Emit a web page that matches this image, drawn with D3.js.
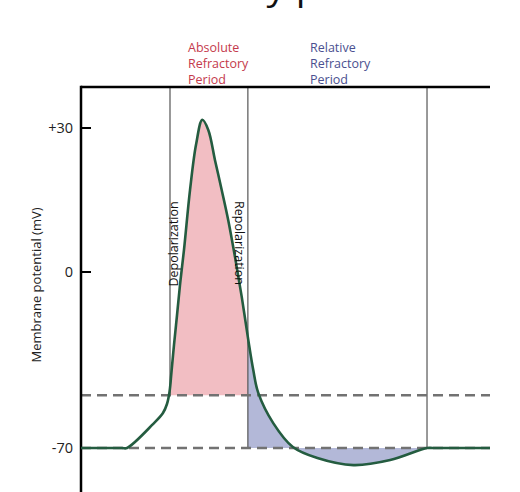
<!DOCTYPE html>
<html>
<head>
<meta charset="utf-8">
<script src="https://cdn.jsdelivr.net/npm/d3@7"></script>
<style>
  body { margin: 0; background: #fff; }
  svg { display: block; font-family: "Open Sans", "Noto Sans", sans-serif; }
</style>
</head>
<body>
<div id="chart"></div>
<script>
// Action potential trace (time in ms, membrane potential in mV)
const times = [0, 0.5, 0.562, 0.88, 1.002, 1.051, 1.082, 1.106, 1.137, 1.174, 1.21, 1.259, 1.333, 1.406, 1.483,
    1.556, 1.638, 1.72, 1.80, 1.883, 1.965, 2.045, 2.106, 2.167, 2.35, 2.59, 2.89, 3.33, 3.78, 4.23, 4.3, 5.0];
const potentials = [-70, -70, -70, -60.5, -56.1, -52.5, -47.7, -39.8, -29, -17.1, -5.2, 4.6, 17.1, 26.5, 31.7,
    29.6, 23.3, 17.1, 10.8, 3.1, -9.9, -27, -39, -48.1, -60.1, -69.6, -74, -76.8, -74.8, -70, -70, -70];

const restingPotential = -70;
const thresholdPotential = -49;
const yTicks = [30, 0, -70];
const yTickLabels = ["+30", "0", "-70"];

// vertical markers: start of depolarization, end of ARP, end of RRP
const markerTimes = [1.088, 2.04, 4.23];
const markerBottoms = [thresholdPotential, restingPotential, restingPotential];

const periodLabels = [
    { lines: ["Absolute", "Refractory", "Period"], color: "#c43a4c" },
    { lines: ["Relative", "Refractory", "Period"], color: "#4a5090" }
];

const width = 520, height = 492;
const data = times.map((t, i) => ({ t, v: potentials[i] }));

const svg = d3.select("#chart").append("svg")
    .attr("width", width)
    .attr("height", height);

// x: time, y: schematic (piecewise) potential scale
const x = d3.scaleLinear().domain([0, 5]).range([81, 490]);
const y = d3.scaleLinear().domain([-70, 0, 30]).range([448, 272, 128]);
const topY = 87;

// title, mostly cut off at the top edge
svg.append("text")
    .attr("x", 100)
    .attr("y", 0)
    .attr("font-size", "34px")
    .attr("fill", "#111")
    .attr("textLength", 313)
    .attr("lengthAdjust", "spacingAndGlyphs")
    .text("Refractory period");

// fills
const defs = svg.append("defs");
defs.append("clipPath").attr("id", "clip-abs")
    .append("rect")
    .attr("x", x(markerTimes[0])).attr("y", 0)
    .attr("width", x(markerTimes[1]) - x(markerTimes[0])).attr("height", height);
defs.append("clipPath").attr("id", "clip-rel")
    .append("rect")
    .attr("x", x(markerTimes[1])).attr("y", 0)
    .attr("width", x(markerTimes[2]) - x(markerTimes[1])).attr("height", height);

const curve = d3.curveCatmullRom.alpha(0.5);
const areaTo = base => d3.area()
    .x(d => x(d.t))
    .y0(y(base))
    .y1(d => y(d.v))
    .curve(curve);

svg.append("path")
    .datum(data)
    .attr("clip-path", "url(#clip-abs)")
    .attr("fill", "#f2bec3")
    .attr("d", areaTo(thresholdPotential));

svg.append("path")
    .datum(data)
    .attr("clip-path", "url(#clip-rel)")
    .attr("fill", "#b3b8d8")
    .attr("d", areaTo(restingPotential));

// vertical markers
svg.append("g").selectAll("line")
    .data(markerTimes)
    .join("line")
    .attr("x1", d => x(d)).attr("x2", d => x(d))
    .attr("y1", topY)
    .attr("y2", (d, i) => y(markerBottoms[i]))
    .attr("stroke", "#555")
    .attr("stroke-width", 1.2);

// dashed threshold and resting lines
svg.append("g").selectAll("line")
    .data([thresholdPotential, restingPotential])
    .join("line")
    .attr("x1", x(0)).attr("x2", x(5))
    .attr("y1", d => y(d)).attr("y2", d => y(d))
    .attr("stroke", "#727272")
    .attr("stroke-width", 2.5)
    .attr("stroke-dasharray", "10 6");

// axes frame
svg.append("line")
    .attr("x1", x(0)).attr("x2", x(5))
    .attr("y1", topY).attr("y2", topY)
    .attr("stroke", "#000").attr("stroke-width", 2.5);
svg.append("line")
    .attr("x1", x(0)).attr("x2", x(0))
    .attr("y1", topY - 1.25).attr("y2", height)
    .attr("stroke", "#000").attr("stroke-width", 2.5);

// y ticks point inwards
const ticks = svg.append("g").selectAll("g")
    .data(yTicks)
    .join("g")
    .attr("transform", d => `translate(${x(0)},${y(d)})`);
ticks.append("line")
    .attr("x1", 0).attr("x2", 10)
    .attr("stroke", "#000").attr("stroke-width", 2);
ticks.append("text")
    .attr("x", -8)
    .attr("dy", "0.35em")
    .attr("text-anchor", "end")
    .attr("font-size", "14.5px")
    .attr("fill", "#222")
    .text((d, i) => yTickLabels[i]);

svg.append("text")
    .attr("transform", `translate(41,${(y(30) + y(-70)) / 2 - 3}) rotate(-90)`)
    .attr("text-anchor", "middle")
    .attr("font-size", "13px")
    .attr("fill", "#222")
    .text("Membrane potential (mV)");

// the trace
svg.append("path")
    .datum(data)
    .attr("fill", "none")
    .attr("stroke", "#245c40")
    .attr("stroke-width", 2.6)
    .attr("stroke-linejoin", "round")
    .attr("d", d3.line().x(d => x(d.t)).y(d => y(d.v)).curve(curve));

// phase labels along the markers
svg.append("text")
    .attr("transform", `translate(178,244) rotate(-90)`)
    .attr("text-anchor", "middle")
    .attr("font-size", "12.5px")
    .attr("fill", "#111")
    .text("Depolarization");
svg.append("text")
    .attr("transform", `translate(235,243) rotate(90)`)
    .attr("text-anchor", "middle")
    .attr("font-size", "12.5px")
    .attr("fill", "#111")
    .text("Repolarization");

// period labels above the frame
const labelX = [188, 310];
periodLabels.forEach((p, i) => {
    svg.append("text")
        .attr("font-size", "12.5px")
        .attr("fill", p.color)
        .selectAll("tspan")
        .data(p.lines)
        .join("tspan")
        .attr("x", labelX[i])
        .attr("y", (d, j) => 51.5 + j * 16)
        .text(d => d);
});
</script>
</body>
</html>
